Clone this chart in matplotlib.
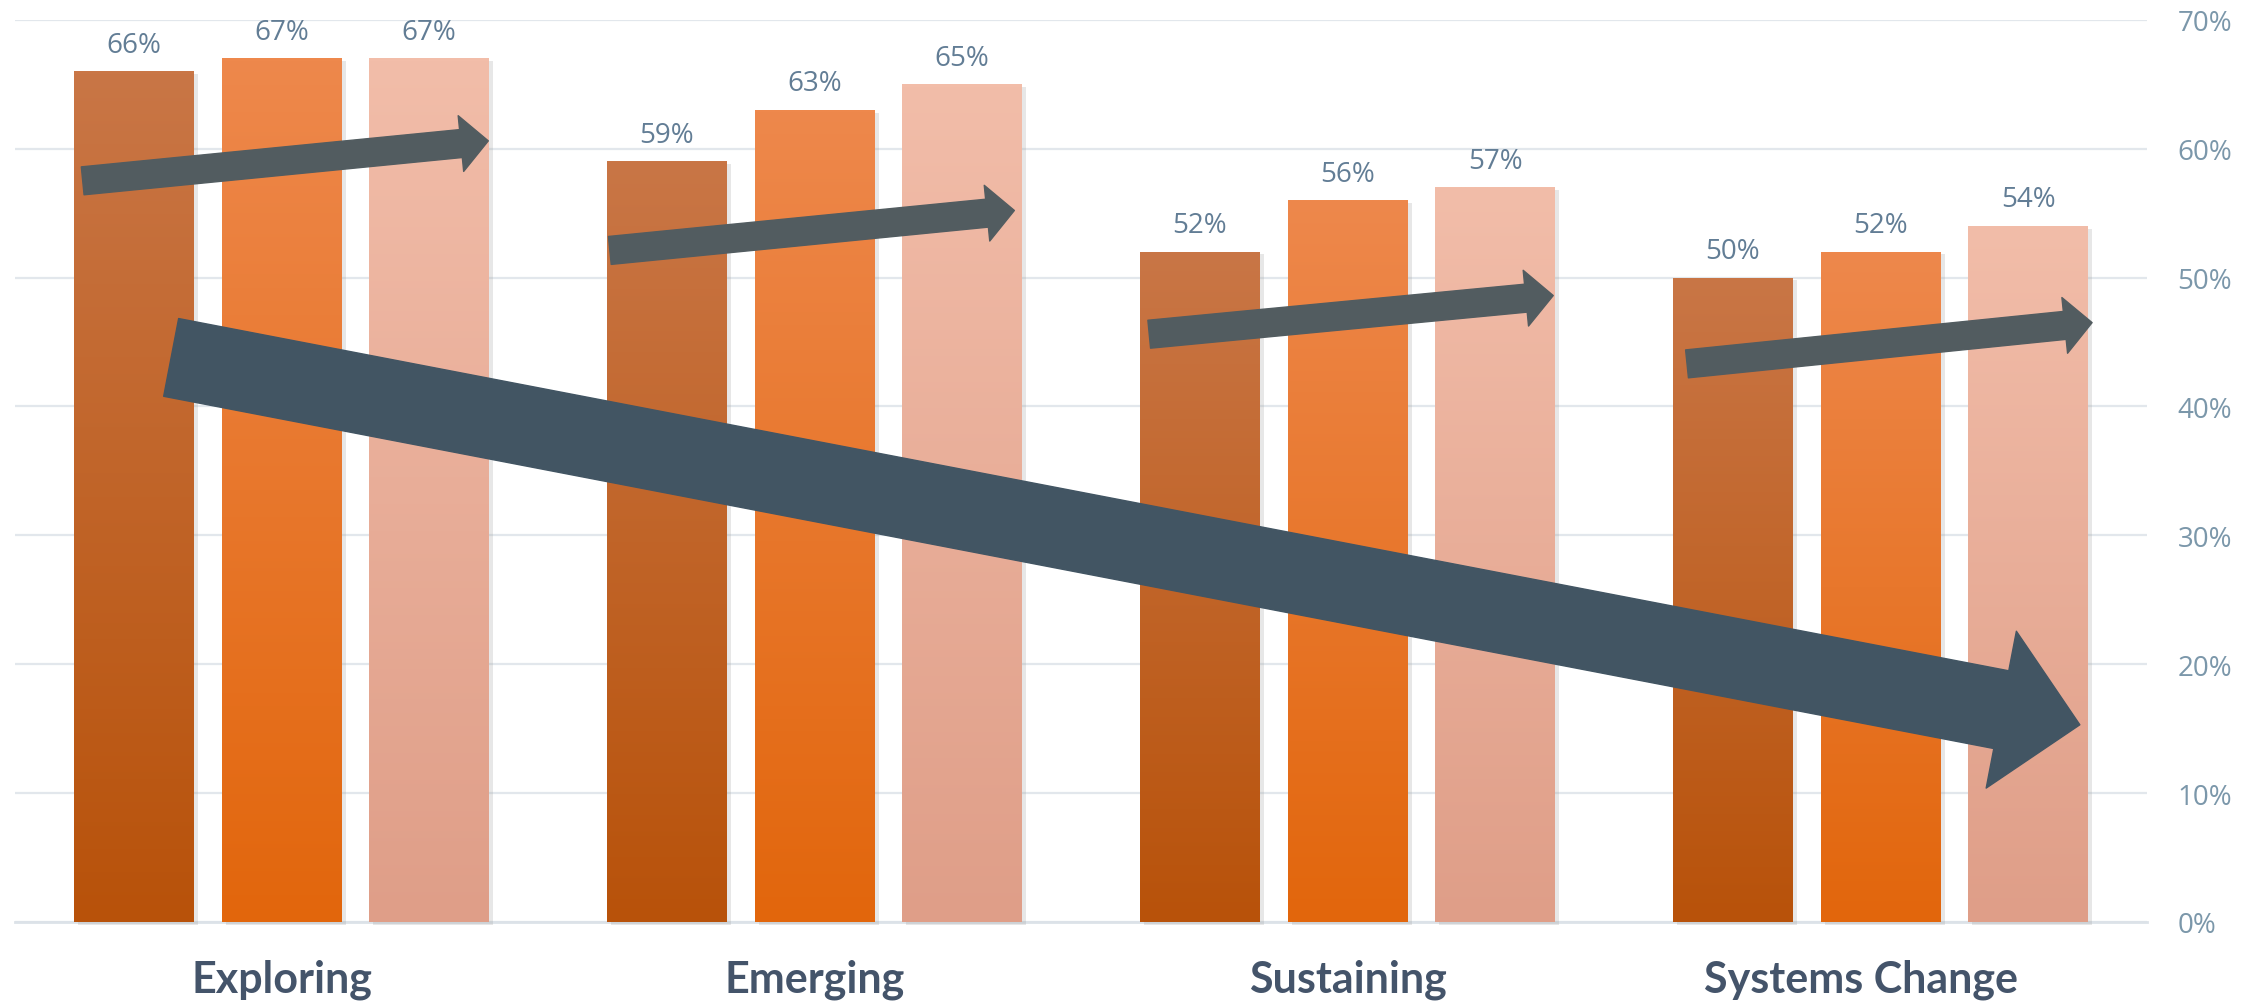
import numpy as np
import matplotlib
matplotlib.use("Agg")
import matplotlib.pyplot as plt
from matplotlib import patheffects as pe
from matplotlib.colors import LinearSegmentedColormap
from matplotlib.transforms import ScaledTranslation

# data
categories = ["Exploring", "Emerging", "Sustaining", "Systems Change"]
series_1 = [66, 59, 52, 50]
series_2 = [67, 63, 56, 52]
series_3 = [67, 65, 57, 54]
y_ticks = [0, 10, 20, 30, 40, 50, 60, 70]

# gradient colours (top, bottom) for each series
grad_colors = [("#C97646", "#B8520A"),
               ("#EE884C", "#E2660C"),
               ("#F2BDA9", "#DF9E88")]

# trend arrows: (x_tail, y_tail, x_tip, y_tip) in axis units (group index, percent)
small_arrows = [(-0.373, 57.5, 0.388, 60.6),
                (0.616, 52.1, 1.375, 55.2),
                (1.628, 45.6, 2.386, 48.6),
                (2.637, 43.3, 3.397, 46.5)]
big_arrow = (-0.207, 43.8, 3.374, 15.3)

fig = plt.figure(figsize=(22.59, 10.03), dpi=100)
ax = fig.add_axes([15 / 2259, 1 - 923 / 1003, (2147 - 15) / 2259, (923 - 20.7) / 1003])

x = np.arange(len(categories))
width = 0.225
step = 0.277

all_series = [series_1, series_2, series_3]
for i, vals in enumerate(all_series):
    pos = x + (i - 1) * step
    bars = ax.bar(pos, vals, width, color="white", zorder=2, clip_on=False,
                  path_effects=[pe.SimplePatchShadow(offset=(3, -2), shadow_rgbFace="#a0a0a0", alpha=0.25),
                                pe.Normal()])
    cmap = LinearSegmentedColormap.from_list("g%d" % i, [grad_colors[i][1], grad_colors[i][0]])
    grad = np.linspace(0, 1, 256).reshape(-1, 1)
    for b, v in zip(bars, vals):
        x0 = b.get_x()
        im = ax.imshow(grad, cmap=cmap, origin="lower", aspect="auto",
                       extent=[x0, x0 + width, 0, v], zorder=3)
        im.set_clip_path(b)
        ax.annotate(f"{v}%", (b.get_x() + width / 2, v), xytext=(0, 9),
                    textcoords="offset points", ha="center", va="bottom",
                    fontsize=20, family="Open Sans", color="#627D95", zorder=5)

# arrows
for (x1, y1, x2, y2) in small_arrows:
    ax.annotate("", xy=(x2, y2), xytext=(x1, y1),
                arrowprops=dict(arrowstyle="simple,head_length=19.8,head_width=40.3,tail_width=20.2",
                                mutation_scale=1, color="#525C60", shrinkA=0, shrinkB=0),
                zorder=6)
bx1, by1, bx2, by2 = big_arrow
ax.annotate("", xy=(bx2, by2), xytext=(bx1, by1),
            arrowprops=dict(arrowstyle="simple,head_length=57.6,head_width=115,tail_width=57",
                            mutation_scale=1, color="#425563", shrinkA=0, shrinkB=0),
            zorder=7)

ax.set_xlim(-0.5, 3.5)
ax.set_ylim(0, 70)
ax.set_yticks(y_ticks)
ax.set_yticklabels([f"{t}%" for t in y_ticks])
ax.yaxis.tick_right()
ax.tick_params(axis="y", length=0, pad=22, labelsize=20, labelcolor="#7B97AA")
for lab in ax.get_yticklabels():
    lab.set_family("Open Sans")
ax.set_xticks(x)
ax.set_xticklabels(categories)
ax.tick_params(axis="x", length=0, pad=26, labelsize=31, labelcolor="#44546A")
for lab in ax.get_xticklabels():
    lab.set_family("Lato")
    lab.set_fontweight("bold")

ax.grid(axis="y", color="#E2E7EC", linewidth=1.6, zorder=0)
ax.set_axisbelow(True)
for s in ["top", "left", "right"]:
    ax.spines[s].set_visible(False)
ax.spines["bottom"].set_color("#DCE2E8")
ax.spines["bottom"].set_linewidth(2)
ax.spines["bottom"].set_zorder(1)

# the last category label sits a little left of its group in the original
fig.canvas.draw()
last = ax.xaxis.get_major_ticks()[-1].label1
last.set_transform(last.get_transform() + ScaledTranslation(-0.2, 0, fig.dpi_scale_trans))

fig.savefig("out.png", dpi=100)
